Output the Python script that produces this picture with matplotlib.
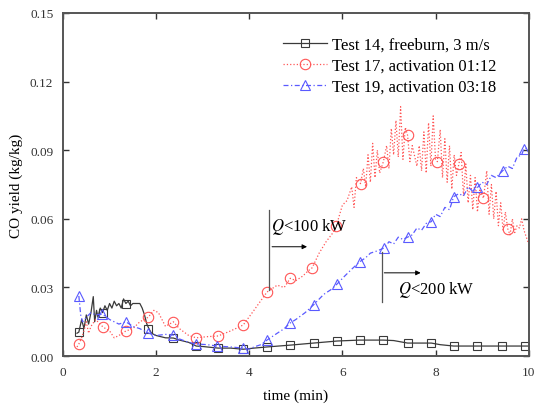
import matplotlib
matplotlib.use("Agg")
import matplotlib.pyplot as plt
from matplotlib.lines import Line2D

plt.rcParams['font.family'] = ['Liberation Serif', 'DejaVu Serif']
plt.rcParams['mathtext.fontset'] = 'stix'

# Test 14, freeburn, 3 m/s
t14 = [0.30, 0.34, 0.40, 0.45, 0.50, 0.55, 0.60, 0.65, 0.68, 0.72, 0.75, 0.80,
       0.85, 0.90, 0.95, 1.00, 1.05, 1.10, 1.15, 1.20, 1.25, 1.30, 1.35, 1.40,
       1.45, 1.50, 1.55, 1.60, 1.65, 1.70, 1.75, 1.80, 1.85, 1.90, 2.00, 2.10,
       2.20, 2.37, 2.50, 2.70, 2.86, 3.00, 3.33, 3.60, 3.87, 4.10, 4.38, 4.88,
       5.38, 5.89, 6.37, 6.88, 7.10, 7.40, 7.91, 8.10, 8.39, 8.90, 9.42, 9.93, 10.0]
y14 = [0.010, 0.0105, 0.016, 0.012, 0.018, 0.014, 0.019, 0.026, 0.015, 0.020, 0.017, 0.021,
       0.019, 0.022, 0.020, 0.023, 0.021, 0.024, 0.022, 0.023, 0.021, 0.025, 0.023, 0.024,
       0.022, 0.023, 0.023, 0.023, 0.023, 0.021, 0.018, 0.014, 0.0118, 0.010, 0.009, 0.0085,
       0.008, 0.0079, 0.007, 0.006, 0.0044, 0.0042, 0.0035, 0.0035, 0.0030, 0.0035, 0.0040, 0.0048,
       0.0057, 0.0066, 0.0070, 0.0070, 0.0068, 0.0057, 0.0057, 0.0050, 0.0044, 0.0044, 0.0044, 0.0044, 0.0044]
t14_mk = [0.34, 0.86, 1.35, 1.83, 2.37, 2.86, 3.33, 3.87, 4.38, 4.88, 5.38, 5.89,
          6.37, 6.88, 7.40, 7.91, 8.39, 8.90, 9.42, 9.93]
y14_mk = [0.0105, 0.019, 0.0228, 0.0118, 0.0079, 0.0044, 0.0035, 0.0033, 0.0040, 0.0048, 0.0057, 0.0066,
          0.0070, 0.0070, 0.0057, 0.0057, 0.0044, 0.0044, 0.0044, 0.0044]

# Test 17, activation 01:12
t17 = [0.30, 0.34, 0.40, 0.45, 0.50, 0.55, 0.60, 0.70, 0.86, 1.00, 1.10, 1.20,
       1.35, 1.50, 1.65, 1.83, 1.95, 2.05, 2.20, 2.37, 2.50, 2.70, 2.86, 3.10,
       3.33, 3.60, 3.87, 4.10, 4.38, 4.60, 4.75, 4.88, 5.00, 5.15, 5.25, 5.35,
       5.50, 5.65, 5.80, 5.87, 6.00, 6.10, 6.20, 6.25, 6.30, 6.39, 6.45, 6.50,
       6.55, 6.60, 6.65, 6.70, 6.75, 6.80, 6.88, 6.95, 7.00, 7.05, 7.10, 7.15,
       7.20, 7.25, 7.30, 7.35, 7.40, 7.45, 7.50, 7.60, 7.65, 7.70, 7.75, 7.80,
       7.85, 7.90, 7.95, 8.00, 8.04, 8.10, 8.15, 8.20, 8.25, 8.30, 8.35, 8.40,
       8.45, 8.50, 8.55, 8.60, 8.65, 8.70, 8.75, 8.80, 8.85, 8.90, 8.95, 9.03,
       9.10, 9.15, 9.20, 9.25, 9.30, 9.35, 9.40, 9.45, 9.50, 9.55, 9.60, 9.65,
       9.70, 9.75, 9.80, 9.85, 9.90, 9.95, 10.0]
y17 = [0.004, 0.0053, 0.008, 0.011, 0.015, 0.010, 0.013, 0.016, 0.0127, 0.011, 0.008, 0.009,
       0.011, 0.012, 0.015, 0.017, 0.020, 0.019, 0.013, 0.015, 0.012, 0.009, 0.008, 0.0085,
       0.0088, 0.011, 0.0136, 0.020, 0.028, 0.031, 0.030, 0.034, 0.033, 0.035, 0.037, 0.0386,
       0.045, 0.050, 0.054, 0.057, 0.066, 0.068, 0.074, 0.065, 0.078, 0.0754, 0.082, 0.074,
       0.088, 0.076, 0.093, 0.078, 0.090, 0.080, 0.085, 0.092, 0.082, 0.0995, 0.088, 0.103,
       0.087, 0.109, 0.086, 0.100, 0.0965, 0.085, 0.092, 0.083, 0.092, 0.081, 0.098, 0.080,
       0.102, 0.083, 0.105, 0.086, 0.085, 0.099, 0.078, 0.095, 0.076, 0.092, 0.073, 0.088,
       0.079, 0.0838, 0.089, 0.070, 0.084, 0.067, 0.079, 0.064, 0.078, 0.063, 0.073, 0.069,
       0.081, 0.062, 0.075, 0.060, 0.072, 0.057, 0.067, 0.055, 0.063, 0.0557, 0.053, 0.060,
       0.054, 0.057, 0.056, 0.060, 0.055, 0.052, 0.049]
t17_mk = [0.34, 0.86, 1.35, 1.83, 2.37, 2.86, 3.33, 3.87, 4.38, 4.88, 5.35, 5.87,
          6.39, 6.88, 7.40, 8.04, 8.50, 9.03, 9.55]
y17_mk = [0.0053, 0.0127, 0.011, 0.017, 0.015, 0.008, 0.0088, 0.0136, 0.028, 0.034, 0.0386, 0.057,
          0.0754, 0.085, 0.0965, 0.085, 0.0838, 0.069, 0.0557]

# Test 19, activation 03:18
t19 = [0.34, 0.38, 0.42, 0.50, 0.60, 0.70, 0.84, 1.00, 1.10, 1.20, 1.35, 1.50,
       1.65, 1.83, 2.00, 2.20, 2.37, 2.50, 2.70, 2.86, 3.10, 3.31, 3.60, 3.87,
       4.00, 4.10, 4.25, 4.38, 4.60, 4.75, 4.88, 5.00, 5.20, 5.38, 5.60, 5.75,
       5.89, 6.05, 6.20, 6.37, 6.50, 6.60, 6.75, 6.90, 7.00, 7.10, 7.20, 7.30,
       7.40, 7.50, 7.60, 7.70, 7.80, 7.91, 8.00, 8.10, 8.20, 8.30, 8.39, 8.50,
       8.60, 8.70, 8.80, 8.90, 9.00, 9.10, 9.20, 9.30, 9.44, 9.55, 9.65, 9.75,
       9.85, 9.90, 10.0]
y19 = [0.0263, 0.018, 0.015, 0.017, 0.019, 0.018, 0.0184, 0.016, 0.015, 0.014, 0.015, 0.013,
       0.012, 0.0101, 0.009, 0.0095, 0.0092, 0.0075, 0.006, 0.0053, 0.005, 0.0044, 0.004, 0.0035,
       0.003, 0.004, 0.005, 0.007, 0.010, 0.012, 0.0145, 0.016, 0.019, 0.0224, 0.027, 0.029,
       0.0316, 0.035, 0.038, 0.0412, 0.043, 0.045, 0.046, 0.0473, 0.050, 0.049, 0.052, 0.051,
       0.052, 0.053, 0.056, 0.055, 0.058, 0.0588, 0.062, 0.061, 0.065, 0.064, 0.0697, 0.071,
       0.070, 0.074, 0.072, 0.0737, 0.076, 0.075, 0.079, 0.078, 0.081, 0.083, 0.082, 0.087,
       0.088, 0.0907, 0.091]
t19_mk = [0.34, 0.84, 1.35, 1.83, 2.37, 2.86, 3.31, 3.87, 4.38, 4.88, 5.38, 5.89,
          6.37, 6.90, 7.40, 7.91, 8.39, 8.90, 9.44, 9.90]
y19_mk = [0.0263, 0.0184, 0.015, 0.0101, 0.0092, 0.0053, 0.0044, 0.0035, 0.007, 0.0145, 0.0224, 0.0316,
          0.0412, 0.0473, 0.052, 0.0588, 0.0697, 0.0737, 0.081, 0.0907]

c14 = '#3a3a3a'
c17 = '#ff5555'
c19 = '#5a5aff'
ls19 = (0, (4, 2, 1, 2))

fig = plt.figure(figsize=(5.34, 4.10), dpi=100)
ax = fig.add_axes([0.118, 0.129, 0.872, 0.837])

ax.plot(t14, y14, color=c14, lw=0.9, ls='-')
ax.plot(t14_mk, y14_mk, ls='none', marker='s', ms=5.5, mfc='none', mec=c14, mew=0.8)
ax.plot(t17, y17, color=c17, lw=0.9, ls=':')
ax.plot(t17_mk, y17_mk, ls='none', marker='o', ms=7.5, mfc='none', mec=c17, mew=0.8)
ax.plot(t19, y19, color=c19, lw=0.9, ls=ls19)
ax.plot(t19_mk, y19_mk, ls='none', marker='^', ms=7.5, mfc='none', mec=c19, mew=0.8)

# annotations
ax.plot([4.43, 4.43], [0.029, 0.064], color='#555555', lw=0.9)
ax.annotate('', xy=(5.3, 0.0478), xytext=(4.43, 0.0478),
            arrowprops=dict(arrowstyle='-|>', color='black', lw=0.7, mutation_scale=7))
ax.text(4.47, 0.057, r'$Q$<100 kW', fontsize=12, va='center', ha='left')
ax.plot([6.84, 6.84], [0.0237, 0.0456], color='#555555', lw=0.9)
ax.annotate('', xy=(7.74, 0.0364), xytext=(6.84, 0.0364),
            arrowprops=dict(arrowstyle='-|>', color='black', lw=0.7, mutation_scale=7))
ax.text(7.2, 0.0294, r'$Q$<200 kW', fontsize=12, va='center', ha='left')

handles = [
    Line2D([], [], color=c14, ls='-', lw=0.9, marker='s', ms=5.5, mfc='none', mec=c14, mew=0.8),
    Line2D([], [], color=c17, ls=':', lw=0.9, marker='o', ms=7.5, mfc='none', mec=c17, mew=0.8),
    Line2D([], [], color=c19, ls=ls19, lw=0.9, marker='^', ms=7.5, mfc='none', mec=c19, mew=0.8),
]
labels = ['Test 14, freeburn, 3 m/s', 'Test 17, activation 01:12', 'Test 19, activation 03:18']
ax.legend(handles, labels, loc='upper right', bbox_to_anchor=(0.955, 0.965), frameon=False,
          fontsize=12, handlelength=2.6, labelspacing=0.3, borderpad=0.2, handletextpad=0.3)

ax.set_xlim(0, 10)
ax.set_ylim(0, 0.15)
ax.set_xticks([0, 2, 4, 6, 8, 10])
ax.set_yticks([0.00, 0.03, 0.06, 0.09, 0.12, 0.15])
ax.set_yticklabels(['0.00', '0.03', '0.06', '0.09', '0.12', '0.15'])
ax.tick_params(direction='in', top=True, right=True, labelsize=9.5, length=4, width=1,
               pad=7, colors='#333333')
for s in ax.spines.values():
    s.set_linewidth(1.4)
    s.set_color('#555555')
ax.set_xlabel('time (min)', fontsize=11, labelpad=8)
ax.set_ylabel('CO yield (kg/kg)', fontsize=11, labelpad=5)

fig.savefig('out.png', dpi=100)
